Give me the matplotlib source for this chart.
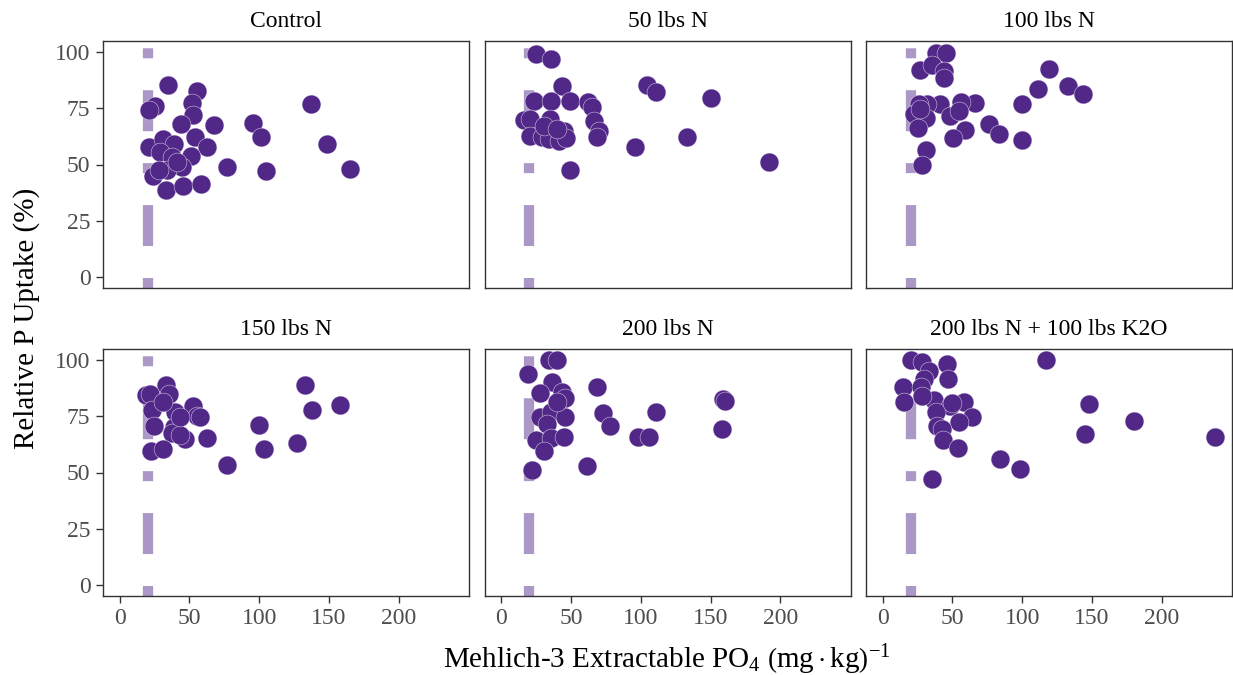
import numpy as np
import matplotlib
matplotlib.use("Agg")
from matplotlib import pyplot as plt

plt.rcParams['font.family'] = ['Liberation Serif', 'DejaVu Serif']
plt.rcParams['mathtext.fontset'] = 'custom'
plt.rcParams['mathtext.rm'] = 'Liberation Serif'
plt.rcParams['mathtext.it'] = 'Liberation Serif:italic'
plt.rcParams['lines.scale_dashes'] = False

panels = ["Control", "50 lbs N", "100 lbs N", "150 lbs N", "200 lbs N",
          "200 lbs N + 100 lbs K2O"]

control_x = [34.5, 55.7, 52.1, 25.5, 21.2, 52.4, 44.0, 67.9, 95.7, 101.0, 136.7,
             53.8, 62.4, 20.7, 31.4, 39.0, 148.8, 29.0, 37.4, 51.2, 44.5, 33.8,
             76.7, 104.8, 165.0, 23.8, 27.9, 33.3, 45.7, 58.1, 41.0]
control_y = [85.6, 82.6, 77.5, 76.0, 74.3, 71.9, 68.2, 67.6, 68.4, 62.1, 76.8,
             62.4, 57.9, 57.6, 61.3, 59.1, 59.0, 55.4, 53.2, 54.0, 48.8, 47.6,
             48.8, 46.9, 48.2, 44.9, 47.4, 38.8, 40.3, 41.5, 51.0]

n50_x = [25.0, 36.0, 43.6, 23.3, 36.0, 49.5, 62.1, 65.0, 104.3, 110.7, 150.0,
         16.7, 21.0, 35.2, 66.2, 69.8, 21.0, 29.3, 34.0, 41.2, 44.8, 46.7,
         69.0, 96.0, 132.9, 191.9, 49.5, 30.5, 40.0]
n50_y = [99.1, 97.1, 84.9, 78.5, 78.5, 78.5, 77.9, 75.6, 85.3, 82.2, 79.7,
         69.7, 70.1, 70.1, 69.4, 65.0, 62.8, 62.4, 61.3, 60.6, 65.0, 61.8,
         62.4, 57.9, 62.1, 51.0, 47.6, 67.2, 65.7]

n100_x = [37.9, 45.7, 27.1, 35.5, 43.8, 44.3, 118.8, 111.0, 132.6, 143.8, 99.8,
          66.0, 56.4, 41.4, 31.9, 26.0, 22.4, 31.4, 48.1, 54.5, 25.2, 76.0,
          83.1, 99.8, 59.3, 50.5, 30.7, 28.3, 27.1]
n100_y = [99.6, 99.6, 92.2, 94.4, 91.8, 88.5, 92.5, 83.8, 84.9, 81.5, 76.8,
          77.5, 77.8, 76.8, 77.1, 76.8, 72.4, 70.6, 71.6, 73.8, 66.2, 68.2,
          63.8, 60.9, 65.3, 61.8, 56.6, 49.6, 74.6]

n150_x = [33.3, 19.0, 21.9, 35.0, 133.1, 137.9, 158.1, 23.1, 52.9, 55.2, 39.8,
          57.6, 24.3, 38.6, 100.0, 37.4, 46.9, 62.4, 43.3, 22.4, 31.4, 103.6,
          127.1, 76.7, 31.4, 43.3]
n150_y = [89.1, 84.6, 84.9, 84.9, 88.9, 78.0, 80.2, 77.8, 79.5, 75.3, 76.8,
          74.9, 70.5, 70.2, 71.3, 67.5, 65.0, 65.4, 66.5, 59.5, 60.3, 60.3,
          63.1, 53.2, 81.2, 74.6]

n200_x = [34.0, 40.0, 19.3, 36.4, 68.6, 28.1, 43.6, 46.0, 158.6, 160.2, 72.9,
          111.0, 28.1, 36.0, 46.0, 32.9, 78.1, 157.9, 25.2, 36.0, 45.2, 30.5,
          98.3, 106.0, 22.1, 61.4, 40.0]
n200_y = [100.1, 100.1, 93.8, 90.1, 88.2, 85.2, 85.7, 83.2, 82.7, 81.7, 76.4,
          76.8, 74.9, 76.8, 74.9, 71.6, 70.5, 69.4, 64.3, 65.3, 65.7, 59.4,
          65.7, 66.0, 51.3, 52.7, 81.2]

n200k_x = [20.0, 28.3, 46.2, 33.0, 29.5, 46.7, 14.8, 27.6, 15.2, 37.1, 28.3,
           58.6, 48.6, 37.9, 64.0, 54.5, 39.0, 42.6, 43.3, 53.8, 148.1, 180.0,
           145.0, 238.3, 116.7, 83.8, 98.1, 35.5, 49.8]
n200k_y = [100.1, 99.4, 98.5, 95.3, 91.6, 91.6, 87.9, 87.9, 81.5, 82.4, 84.2,
           81.5, 79.8, 77.1, 74.6, 72.4, 70.9, 69.4, 64.5, 61.0, 80.5, 73.1,
           67.2, 65.7, 100.0, 56.1, 51.7, 47.0, 81.0]

xs = [control_x, n50_x, n100_x, n150_x, n200_x, n200k_x]
ys = [control_y, n50_y, n100_y, n150_y, n200_y, n200k_y]

critical = 20
x_ticks = [0, 50, 100, 150, 200]
y_ticks = [0, 25, 50, 75, 100]

purple = '#512888'

W, H = 1233, 675
fig = plt.figure(figsize=(W / 100, H / 100), dpi=100)

lefts = [103, 484.5, 866]
tops = [41, 349]
pw, ph = 366, 247

xmax = max(max(x) for x in xs)
xlim = (-0.05 * xmax, 1.05 * xmax)

for i, name in enumerate(panels):
    r, c = divmod(i, 3)
    ax = fig.add_axes([lefts[c] / W, 1 - (tops[r] + ph) / H, pw / W, ph / H])
    # critical soil test level
    ax.axvline(critical, color=purple, alpha=0.48, lw=7.4,
               linestyle=(0, (7.2, 23, 29.5, 23)), solid_capstyle='butt',
               dash_capstyle='butt', zorder=1)
    ax.scatter(xs[i], ys[i], s=185, color=purple, edgecolors='#f4f0f8',
               linewidths=0.3, zorder=3)
    ax.set_xlim(*xlim)
    ax.set_ylim(-5, 105)
    ax.set_xticks(x_ticks)
    ax.set_yticks(y_ticks)
    ax.set_title(name, fontsize=17, pad=10)
    for s in ax.spines.values():
        s.set_color('#333333')
        s.set_linewidth(1.0)
    ax.tick_params(colors='#333333', labelcolor='#4d4d4d', labelsize=17,
                   length=5, width=1.0, pad=4)
    if r == 0:
        ax.tick_params(axis='x', bottom=False, labelbottom=False)
    if c != 0:
        ax.tick_params(axis='y', left=False, labelleft=False)

fig.text(27 / W, 1 - 318 / H, "Relative P Uptake (%)", rotation=90,
         ha='center', va='center', fontsize=21)
fig.text(667 / W, 1 - 668 / H,
         r"Mehlich-3 Extractable PO$_4$ $\left(\mathrm{mg}\cdot\mathrm{kg}\right)^{-1}$",
         ha='center', va='baseline', fontsize=21)

fig.savefig("out.png", dpi=100)
